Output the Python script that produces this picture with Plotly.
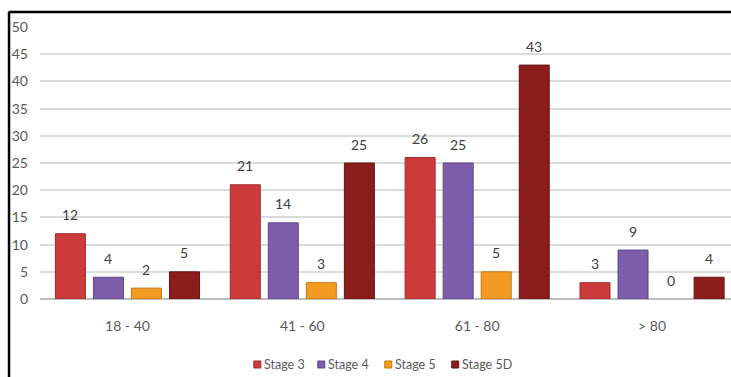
import plotly.graph_objects as go

categories = ["18 - 40", "41 - 60", "61 - 80", "> 80"]
series_names = ["Stage 3", "Stage 4", "Stage 5", "Stage 5D"]
stage3 = [12, 21, 26, 3]
stage4 = [4, 14, 25, 9]
stage5 = [2, 3, 5, 0]
stage5d = [5, 25, 43, 4]
y_ticks = [0, 5, 10, 15, 20, 25, 30, 35, 40, 45, 50]

values = [stage3, stage4, stage5, stage5d]
colors = ["#CB3B3B", "#7F5DAD", "#F39A22", "#8B1E1C"]
line_colors = ["#A02A2A", "#5E4388", "#C87812", "#651412"]

W, H = 731, 377
L, R, T, B = 39.5, 0, 27, 78
FONT = "Lato, Liberation Sans, sans-serif"
TXT = "#595959"

fig = go.Figure()
for name, vals, c, lc in zip(series_names, values, colors, line_colors):
    fig.add_trace(go.Bar(
        name=name, x=categories, y=vals,
        marker=dict(color=c, line=dict(color=lc, width=[0 if v == 0 else 1 for v in vals])),
        width=30 / 175, showlegend=False,
    ))

plot_w = W - L - R
plot_h = H - T - B
def px_x(px):
    return (px - L) / plot_w
def px_y(py):
    return (H - B - py) / plot_h

# data labels above bars
offsets = [-57, -19, 19, 57]
annotations = []
for vals, off in zip(values, offsets):
    for cat, v in zip(categories, vals):
        annotations.append(dict(
            x=cat, y=v, xref="x", yref="y", text=str(v), showarrow=False,
            xshift=off, yshift=19, font=dict(family=FONT, size=14, color="#404040"),
        ))

# legend (drawn as small squares + text)
legend_x = [257, 321, 388, 455]
shapes = []
for name, c, lc, lx in zip(series_names, colors, line_colors, legend_x):
    shapes.append(dict(type="rect", xref="paper", yref="paper",
                       x0=px_x(lx - 3.5), x1=px_x(lx + 3.5), y0=px_y(368), y1=px_y(361),
                       fillcolor=c, line=dict(color=lc, width=1)))
    annotations.append(dict(x=px_x(lx + 5), y=px_y(364.5), xref="paper", yref="paper",
                            xanchor="left", yanchor="middle", text=name, showarrow=False,
                            font=dict(family=FONT, size=12.5, color=TXT)))

shapes += [
    dict(type="line", xref="paper", yref="paper",
         x0=px_x(8), x1=px_x(731), y0=px_y(12), y1=px_y(12),
         line=dict(color="black", width=2.5)),
    dict(type="line", xref="paper", yref="paper",
         x0=px_x(8.5), x1=px_x(8.5), y0=px_y(12), y1=px_y(380),
         line=dict(color="black", width=2.5)),
]

fig.update_layout(
    width=W, height=H,
    margin=dict(l=L, r=R, t=T, b=B, pad=0),
    paper_bgcolor="white", plot_bgcolor="white",
    barmode="group", bargap=0.13, bargroupgap=0.21,
    font=dict(family=FONT, size=14, color=TXT),
    xaxis=dict(range=[-0.5, (W - L) / 175 - 0.5], showgrid=False, showline=False,
               ticks="", tickfont=dict(size=14, color=TXT), ticklabelstandoff=17),
    yaxis=dict(range=[0, 50], tickvals=y_ticks, showgrid=True, gridcolor="#D9DDD9",
               gridwidth=1.5, zeroline=True, zerolinecolor="#BFBFBF", zerolinewidth=1.5,
               showline=False, ticks="", tickfont=dict(size=14, color=TXT),
               ticklabelstandoff=11),
    annotations=annotations,
    shapes=shapes,
    showlegend=False,
)

fig.write_html("out.html")
